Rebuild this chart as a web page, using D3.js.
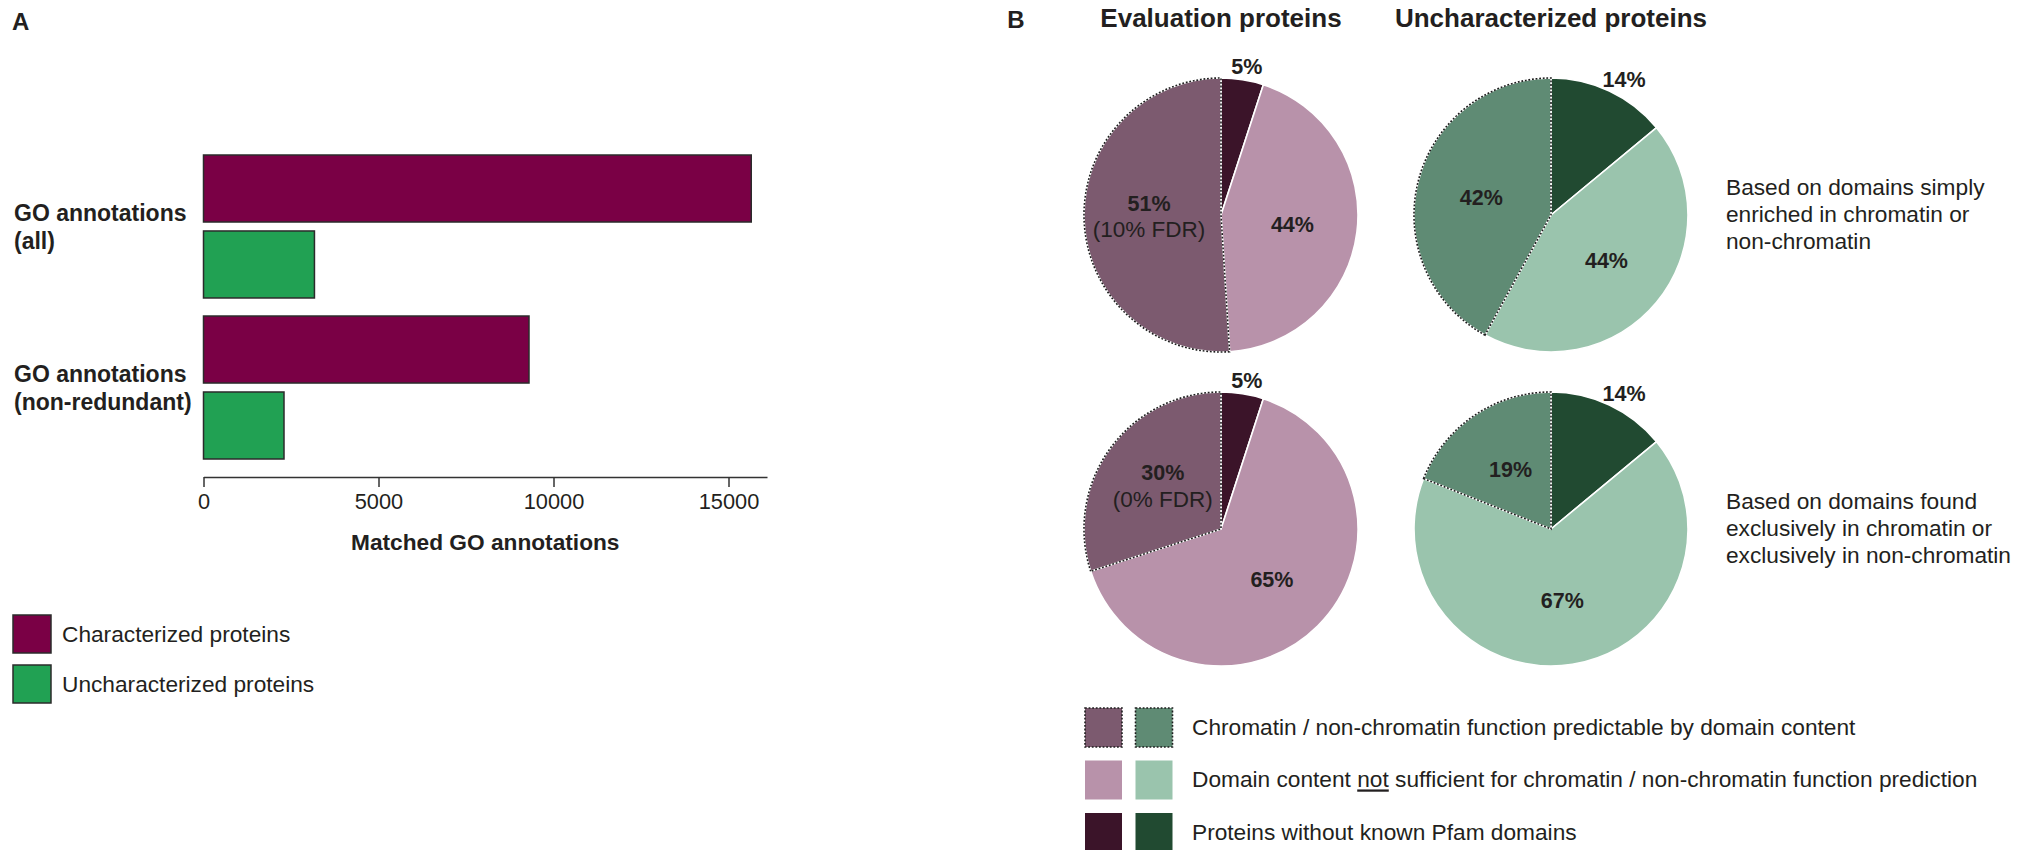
<!DOCTYPE html>
<html><head><meta charset="utf-8">
<script src="https://cdn.jsdelivr.net/npm/d3@7"></script>
<style>
body{margin:0;background:#fff}
text{font-family:"Liberation Sans",Arial,Helvetica,sans-serif;fill:#231F20}
</style>
</head><body>
<svg id="c" width="2031" height="850"></svg>
<script>
// ---------- Panel A data ----------
const groups = ["all", "non-redundant"];
const groupLabels = [["GO annotations", "(all)"], ["GO annotations", "(non-redundant)"]];
const seriesNames = ["Characterized proteins", "Uncharacterized proteins"];
const characterized = [15650, 9300];
const uncharacterized = [3170, 2300];
const xTicks = [0, 5000, 10000, 15000];
const xAxisTitle = "Matched GO annotations";

// ---------- Panel B data ----------
const pieColumns = ["Evaluation proteins", "Uncharacterized proteins"];
const pieRows = ["simple", "exclusive"];
const sliceNames = ["no Pfam domains", "not sufficient", "predictable"];
const evalSimple = [5, 44, 51];
const uncharSimple = [14, 44, 42];
const evalExclusive = [5, 65, 30];
const uncharExclusive = [14, 67, 19];
const fdrNotes = ["(10% FDR)", "(0% FDR)"];
const rowNotes = [
  ["Based on domains simply", "enriched in chromatin or", "non-chromatin"],
  ["Based on domains found", "exclusively in chromatin or", "exclusively in non-chromatin"]
];
const legendBTexts = [
  ["Chromatin / non-chromatin function predictable by domain content"],
  ["Domain content ", "not", " sufficient for chromatin / non-chromatin function prediction"],
  ["Proteins without known Pfam domains"]
];

// ---------- styles ----------
const barColors = ["#7A0045", "#21A153"];
const evalColors = {"no Pfam domains": "#3B1429", "not sufficient": "#B892AA", "predictable": "#7C5A6F"};
const uncharColors = {"no Pfam domains": "#214A31", "not sufficient": "#9AC4AD", "predictable": "#5F8B74"};
const ink = "#231F20";
const FS = 22.7;

const svg = d3.select("#c");

// ================= Panel A =================
svg.append("text").attr("x", 12).attr("y", 22).attr("dy", "0.35em")
  .attr("font-size", 24).attr("font-weight", "bold").text("A");

const x = d3.scaleLinear().domain([0, 16100]).range([203.5, 767]);
const y0 = d3.scaleBand().domain(groups).range([155, 459]).paddingInner(0.112).paddingOuter(0);
const y1 = d3.scaleBand().domain(seriesNames).range([0, y0.bandwidth()]).paddingInner(0.118).paddingOuter(0);

const barData = [];
groups.forEach((g, i) => {
  barData.push({g, s: seriesNames[0], v: characterized[i], c: barColors[0]});
  barData.push({g, s: seriesNames[1], v: uncharacterized[i], c: barColors[1]});
});

svg.append("g").selectAll("rect").data(barData).join("rect")
  .attr("x", x(0))
  .attr("y", d => y0(d.g) + y1(d.s))
  .attr("width", d => x(d.v) - x(0))
  .attr("height", y1.bandwidth())
  .attr("fill", d => d.c)
  .attr("stroke", "#2b2b2b").attr("stroke-width", 1.5);

// group labels
groups.forEach((g, i) => {
  const cy = y0(g) + y0.bandwidth() / 2;
  const t = svg.append("text").attr("x", 14).attr("font-size", 23).attr("font-weight", "bold");
  groupLabels[i].forEach((ln, k) => {
    t.append("tspan").attr("x", 14).attr("y", cy + (k - 0.5) * 28).attr("dy", "0.35em").text(ln);
  });
});

const axisY = 477;
const ax = svg.append("g").attr("transform", `translate(0,${axisY})`)
  .call(d3.axisBottom(x).tickValues(xTicks).tickSize(10).tickSizeOuter(0).tickPadding(7).tickFormat(d3.format("d")));
ax.attr("font-family", null).attr("font-size", 21.8);
ax.selectAll("path,line").attr("stroke", "#333").attr("stroke-width", 1.5);
ax.selectAll("text").attr("fill", ink);

svg.append("text").attr("x", (x.range()[0] + x.range()[1]) / 2).attr("y", 542).attr("dy", "0.35em")
  .attr("text-anchor", "middle").attr("font-size", 22.7).attr("font-weight", "bold").text(xAxisTitle);

// legend A
const legA = svg.append("g");
seriesNames.forEach((s, i) => {
  const yy = 615 + i * 50;
  legA.append("rect").attr("x", 13).attr("y", yy).attr("width", 38).attr("height", 38)
    .attr("fill", barColors[i]).attr("stroke", "#2b2b2b").attr("stroke-width", 1.5);
  legA.append("text").attr("x", 62).attr("y", yy + 19).attr("dy", "0.35em").attr("font-size", FS).text(s);
});

// ================= Panel B =================
svg.append("text").attr("x", 1016).attr("y", 20).attr("dy", "0.35em").attr("text-anchor", "middle")
  .attr("font-size", 24).attr("font-weight", "bold").text("B");

const colX = d3.scalePoint().domain(pieColumns).range([1221, 1551]);
const rowY = d3.scalePoint().domain(pieRows).range([215, 529]);
const R = 137;

pieColumns.forEach(c => {
  svg.append("text").attr("x", colX(c)).attr("y", 18).attr("dy", "0.35em").attr("text-anchor", "middle")
    .attr("font-size", 26).attr("font-weight", "bold").text(c);
});

const pie = d3.pie().sort(null).value(d => d.v);
const arc = d3.arc().innerRadius(0).outerRadius(R);
const inLabel = d3.arc().innerRadius(72).outerRadius(72);
const outLabel = d3.arc().innerRadius(150).outerRadius(150);

const pies = [
  {col: pieColumns[0], row: pieRows[0], vals: evalSimple, colors: evalColors, note: fdrNotes[0]},
  {col: pieColumns[1], row: pieRows[0], vals: uncharSimple, colors: uncharColors, note: null},
  {col: pieColumns[0], row: pieRows[1], vals: evalExclusive, colors: evalColors, note: fdrNotes[1]},
  {col: pieColumns[1], row: pieRows[1], vals: uncharExclusive, colors: uncharColors, note: null}
];

pies.forEach(p => {
  const g = svg.append("g").attr("transform", `translate(${colX(p.col)},${rowY(p.row)})`);
  const data = pie(sliceNames.map((n, i) => ({n, v: p.vals[i]})));
  g.selectAll("path.s").data(data).join("path").attr("class", "s")
    .attr("d", arc).attr("fill", d => p.colors[d.data.n])
    .attr("stroke", "#fff").attr("stroke-width", 1.6).attr("stroke-linejoin", "round");
  // dotted outline for predictable slice
  const pred = data.filter(d => d.data.n === "predictable");
  g.selectAll("path.o").data(pred).join("path").attr("class", "o")
    .attr("d", arc).attr("fill", "none")
    .attr("stroke", "#1e1e1e").attr("stroke-width", 1.6).attr("stroke-dasharray", "1.8,1.8");
  data.forEach(d => {
    const lbl = d.data.v + "%";
    if (d.data.n === "no Pfam domains") {
      const [lx, ly] = outLabel.centroid(d);
      const t = g.append("text").attr("x", lx).attr("y", ly).attr("dy", "0.35em").attr("text-anchor", "middle")
        .attr("font-size", 21.5).attr("font-weight", "bold").text(lbl);
      const w = t.node().getComputedTextLength();
      const mid = (d.startAngle + d.endAngle) / 2;
      t.attr("x", lx + Math.sin(mid) * w / 2);
    } else {
      const [lx, ly] = inLabel.centroid(d);
      if (d.data.n === "predictable" && p.note) {
        g.append("text").attr("x", lx).attr("y", ly - 14).attr("dy", "0.35em").attr("text-anchor", "middle")
          .attr("font-size", 21.5).attr("font-weight", "bold").text(lbl);
        g.append("text").attr("x", lx).attr("y", ly + 12).attr("dy", "0.35em").attr("text-anchor", "middle")
          .attr("font-size", 22.5).text(p.note);
      } else {
        g.append("text").attr("x", lx).attr("y", ly).attr("dy", "0.35em").attr("text-anchor", "middle")
          .attr("font-size", 21.5).attr("font-weight", "bold").text(lbl);
      }
    }
  });
});

// row notes
pieRows.forEach((r, i) => {
  const t = svg.append("text").attr("font-size", FS);
  rowNotes[i].forEach((ln, k) => {
    const yy = rowY(r) - 28 + k * 27;
    t.append("tspan").attr("x", 1726).attr("y", yy).attr("dy", "0.35em").text(ln);
  });
});

// legend B
const legB = svg.append("g");
const legOrder = ["predictable", "not sufficient", "no Pfam domains"];
legOrder.forEach((n, i) => {
  const yy = 708 + i * 52.5;
  [evalColors, uncharColors].forEach((cols, j) => {
    const r = legB.append("rect").attr("x", 1085 + j * 50.5).attr("y", yy).attr("width", 37).attr("height", 39)
      .attr("fill", cols[n]);
    if (n === "predictable") {
      r.attr("stroke", "#1e1e1e").attr("stroke-width", 1.6).attr("stroke-dasharray", "1.8,1.8");
    }
  });
  const t = legB.append("text").attr("x", 1192).attr("y", yy + 19).attr("dy", "0.35em").attr("font-size", FS);
  legendBTexts[i].forEach((part, k) => {
    const ts = t.append("tspan").text(part);
    if (legendBTexts[i].length === 3 && k === 1) ts.attr("text-decoration", "underline");
  });
});
</script>
</body></html>
